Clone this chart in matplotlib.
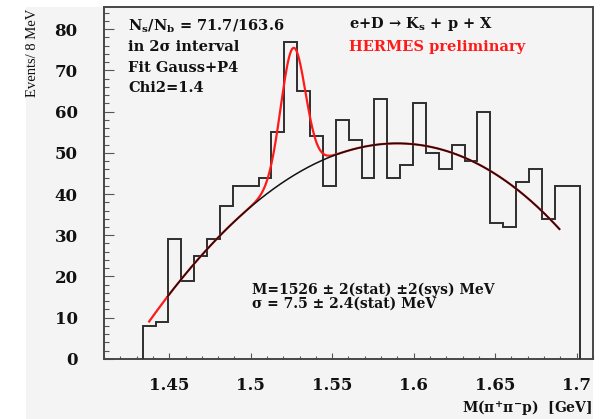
import numpy as np
import matplotlib
matplotlib.use("Agg")
import matplotlib.pyplot as plt
from matplotlib.patches import Rectangle
from matplotlib.ticker import MultipleLocator, FixedLocator

plt.rcParams['mathtext.fontset'] = 'custom'
plt.rcParams['mathtext.rm'] = 'DejaVu Serif:bold'
plt.rcParams['mathtext.it'] = 'DejaVu Serif:bold'
plt.rcParams['mathtext.bf'] = 'DejaVu Serif:bold'

# Histogram: events per bin in M(pi+ pi- p)
counts = [8, 9, 29, 19, 25, 29, 37, 42, 42, 44, 55, 77, 65, 54, 42, 58, 53,
          44, 63, 44, 47, 62, 50, 46, 52, 48, 60, 33, 32, 43, 46, 34, 42, 42]
first_edge = 1.4337
bin_width = 0.0079

# Background (P4) curve sample points, GeV vs events
bg_x = [1.4377, 1.4496, 1.4578, 1.4731, 1.4808, 1.4965, 1.5047, 1.5220,
        1.5363, 1.5425, 1.5506, 1.5751, 1.5914, 1.6074, 1.6308, 1.6466,
        1.6625, 1.6782, 1.6894]
bg_y = [9.4, 15.5, 19.0, 26.4, 29.3, 35.9, 39.4, 43.4,
        46.6, 48.0, 49.1, 51.7, 52.3, 51.5, 48.7, 46.0,
        42.0, 35.3, 31.7]

# Gaussian signal
peak_mass = 1.526      # GeV
peak_sigma = 0.0075    # GeV
peak_amp = 31.0

x_ticks = [1.45, 1.50, 1.55, 1.60, 1.65, 1.70]
x_tick_labels = ["1.45", "1.5", "1.55", "1.6", "1.65", "1.7"]
y_ticks = [0, 10, 20, 30, 40, 50, 60, 70, 80]

W, H = 608, 419
fig = plt.figure(figsize=(W / 100, H / 100), dpi=100, facecolor='white')

def fx(px):
    return px / W

def fy(py):
    return 1 - py / H

# grey pad
fig.patches.append(Rectangle((fx(26), 0), fx(593) - fx(26), fy(7.3),
                             transform=fig.transFigure, facecolor='#f4f4f4',
                             edgecolor='none', zorder=-10))

ax = fig.add_axes([fx(104), fy(358.9), fx(593) - fx(104), fy(7.3) - fy(358.9)])
ax.set_facecolor('#f4f4f4')
ax.set_xlim(1.41, 1.71)
ax.set_ylim(0, 85.3)

edges = first_edge + bin_width * np.arange(len(counts) + 1)
ax.stairs(counts, edges, baseline=0, color='#2e2e2e', lw=1.4, zorder=3)

coef = np.polyfit(np.array(bg_x) - 1.55, bg_y, 4)

def background(m):
    return np.polyval(coef, m - 1.55)

xr = np.linspace(1.4377, 1.6894, 400)
full = background(xr) + peak_amp * np.exp(-0.5 * ((xr - peak_mass) / peak_sigma) ** 2)
ax.plot(xr, full, color='#ff1a1a', lw=1.6, zorder=4)
xb = np.linspace(1.449, 1.6894, 400)
ax.plot(xb, background(xb), color='#111111', lw=1.1, zorder=5)

for s in ax.spines.values():
    s.set_color('#474747')
    s.set_linewidth(1.4)

ax.xaxis.set_major_locator(FixedLocator(x_ticks))
ax.set_xticklabels(x_tick_labels)
ax.xaxis.set_minor_locator(MultipleLocator(0.01))
ax.yaxis.set_major_locator(FixedLocator(y_ticks))
ax.yaxis.set_minor_locator(MultipleLocator(2))
ax.tick_params(axis='x', which='major', direction='in', length=4.5, width=0.8,
               color='#555555', pad=13, labelsize=12)
ax.tick_params(axis='x', which='minor', direction='in', length=2.5, width=0.8,
               color='#555555')
ax.tick_params(axis='y', which='major', direction='in', length=7, width=0.8,
               color='#555555', pad=19, labelsize=12)
ax.tick_params(axis='y', which='minor', direction='in', length=3.5, width=0.8,
               color='#555555')
for lab in ax.get_xticklabels() + ax.get_yticklabels():
    lab.set_fontfamily('DejaVu Serif')
    lab.set_fontweight('bold')
    lab.set_color('#111111')

bold = dict(family='DejaVu Serif', weight='bold', color='#111111')

fig.text(fx(128), fy(30.5), r'N$_{s}$/N$_{b}$ = 71.7/163.6', fontsize=10.5,
         va='baseline', ha='left', **bold)
fig.text(fx(128), fy(51), 'in 2σ interval', fontsize=10.5, va='baseline', ha='left', **bold)
fig.text(fx(128), fy(72), 'Fit Gauss+P4', fontsize=10.5, va='baseline', ha='left', **bold)
fig.text(fx(128), fy(92), 'Chi2=1.4', fontsize=10.5, va='baseline', ha='left', **bold)

fig.text(fx(349), fy(28.3), r'e+D → K$_{s}$ + p + X', fontsize=10.5,
         va='baseline', ha='left', **bold)
fig.text(fx(349), fy(51), 'HERMES preliminary', fontsize=10.5, va='baseline',
         ha='left', family='DejaVu Serif', weight='bold', color='#ff1a1a')

fig.text(fx(252), fy(294), 'M=1526 ± 2(stat) ±2(sys) MeV', fontsize=10,
         va='baseline', ha='left', **bold)
fig.text(fx(252), fy(308), 'σ = 7.5 ± 2.4(stat) MeV', fontsize=10,
         va='baseline', ha='left', **bold)

fig.text(fx(592), fy(412.5), r'M(π$^{+}$π$^{-}$p)  [GeV]', fontsize=10,
         va='baseline', ha='right', **bold)
fig.text(fx(32.5), fy(8.3), 'Events/ 8 MeV', rotation=90, fontsize=10.5,
         family='Liberation Serif', color='#111111', ha='center', va='top')

fig.savefig('out.png', dpi=100, facecolor='white')
